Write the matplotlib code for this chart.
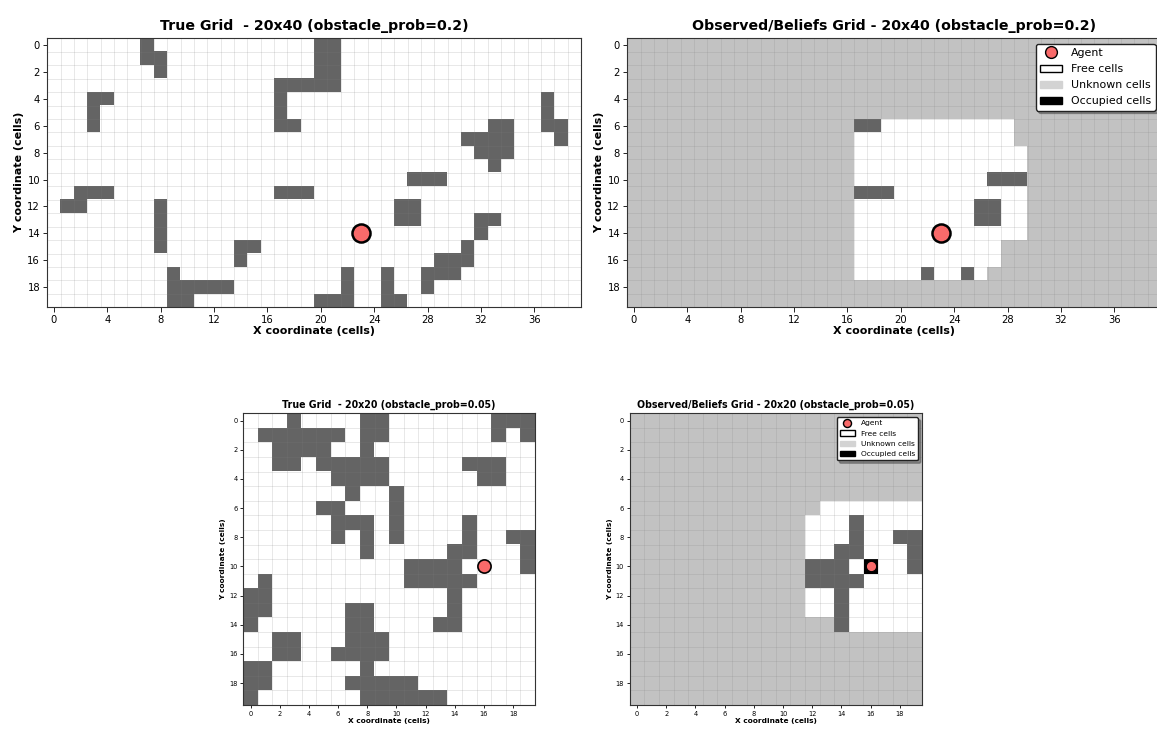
import numpy as np
import matplotlib
matplotlib.use('Agg')
import matplotlib.pyplot as plt
from matplotlib.colors import ListedColormap
from matplotlib.patches import Patch
from matplotlib.lines import Line2D


# 20x40 地图：每一行中障碍物所在的列
big_shape = (20, 40)
big_obstacles = [
    [7, 20, 21],
    [7, 8, 20, 21],
    [8, 20, 21],
    [17, 18, 19, 20, 21],
    [3, 4, 17, 37],
    [3, 17, 37],
    [3, 17, 18, 33, 34, 37, 38],
    [31, 32, 33, 34, 38],
    [32, 33, 34],
    [33],
    [27, 28, 29],
    [2, 3, 4, 17, 18, 19],
    [1, 2, 8, 26, 27],
    [8, 26, 27, 32, 33],
    [8, 32],
    [8, 14, 15, 31],
    [14, 29, 30, 31],
    [9, 22, 25, 28, 29, 30],
    [9, 10, 11, 12, 13, 22, 25, 28],
    [9, 10, 20, 21, 22, 25, 26],
]
big_agent = (23, 14)
# 已观测区域：行 -> (起始列, 结束列)
big_seen = {6: (17, 28), 7: (17, 28), 8: (17, 29), 9: (17, 29), 10: (17, 29),
            11: (17, 29), 12: (17, 29), 13: (17, 29), 14: (17, 29),
            15: (17, 27), 16: (17, 27), 17: (17, 26)}

# 20x20 地图
small_shape = (20, 20)
small_obstacles = [
    [3, 8, 9, 17, 18, 19],
    [1, 2, 3, 4, 5, 6, 8, 9, 17, 19],
    [2, 3, 4, 5, 8],
    [2, 3, 5, 6, 7, 8, 9, 15, 16, 17],
    [6, 7, 8, 9, 16, 17],
    [7, 10],
    [5, 6, 10],
    [6, 7, 8, 10, 15],
    [6, 8, 10, 15, 18, 19],
    [8, 14, 15, 19],
    [11, 12, 13, 14, 19],
    [1, 11, 12, 13, 14, 15],
    [0, 1, 14],
    [0, 1, 7, 8, 14],
    [0, 7, 8, 13, 14],
    [2, 3, 7, 8, 9],
    [2, 3, 6, 7, 8, 9],
    [0, 1, 8],
    [0, 1, 7, 8, 9, 10, 11],
    [0, 8, 9, 10, 11, 12, 13],
]
small_agent = (16, 10)
small_seen = {6: (13, 19), 7: (12, 19), 8: (12, 19), 9: (12, 19), 10: (12, 19),
              11: (12, 19), 12: (12, 19), 13: (12, 19), 14: (14, 19)}

# 0 空闲, 1 障碍, 2 未知, 3 智能体所在格
cell_cmap = ListedColormap(['white', '#646464', '#c2c2c2', 'black'])
agent_color = '#f96a6a'


def true_grid(shape, obstacles):
    grid = np.zeros(shape)
    for r, cols in enumerate(obstacles):
        grid[r, cols] = 1
    return grid


def belief_grid(shape, obstacles, seen):
    real = true_grid(shape, obstacles)
    grid = np.full(shape, 2.0)
    for r, (c0, c1) in seen.items():
        grid[r, c0:c1 + 1] = real[r, c0:c1 + 1]
    return grid


def draw_grid(ax, grid, agent, title, fs, ms, mew, xstep):
    h, w = grid.shape
    ax.imshow(grid, cmap=cell_cmap, vmin=0, vmax=3, interpolation='nearest', aspect='auto')
    ax.set_xticks(np.arange(-0.5, w, 1), minor=True)
    ax.set_yticks(np.arange(-0.5, h, 1), minor=True)
    ax.grid(which='minor', color='gray', alpha=0.25, linewidth=0.5)
    ax.tick_params(which='minor', length=0)
    ax.set_xticks(np.arange(0, w, xstep))
    ax.set_yticks(np.arange(0, h, 2))
    ax.tick_params(which='major', labelsize=fs[2], length=fs[2] * 0.45, width=0.6, pad=2)
    for s in ax.spines.values():
        s.set_linewidth(0.8)
        s.set_color('#333333')
    ax.plot(agent[0], agent[1], 'o', color=agent_color, markersize=ms,
            markeredgecolor='black', markeredgewidth=mew)
    ax.set_title(title, fontsize=fs[0], fontweight='bold', pad=fs[0] * 0.6)
    ax.set_xlabel('X coordinate (cells)', fontsize=fs[1], fontweight='bold', labelpad=1)
    ax.set_ylabel('Y coordinate (cells)', fontsize=fs[1], fontweight='bold', labelpad=2)


def add_legend(ax, fontsize, ms):
    handles = [
        Line2D([], [], marker='o', linestyle='none', color=agent_color,
               markeredgecolor='black', markersize=ms, label='Agent'),
        Patch(facecolor='white', edgecolor='black', label='Free cells'),
        Patch(facecolor='lightgray', edgecolor='lightgray', label='Unknown cells'),
        Patch(facecolor='black', edgecolor='black', label='Occupied cells'),
    ]
    leg = ax.legend(handles=handles, loc='upper right', fontsize=fontsize,
                    shadow=True, fancybox=True, framealpha=1, labelspacing=0.55)
    leg.get_frame().set_edgecolor('#222222')


def main():
    W, H = 1157, 729
    fig = plt.figure(figsize=(W / 100, H / 100), dpi=100)

    def px_axes(x0, y0, x1, y1):
        return fig.add_axes([x0 / W, 1 - y1 / H, (x1 - x0) / W, (y1 - y0) / H])

    big_fs = (10.2, 8, 7.2)
    small_fs = (6.85, 5.3, 4.8)

    ax1 = px_axes(47.3, 38.3, 581.0, 307.3)
    draw_grid(ax1, true_grid(big_shape, big_obstacles), big_agent,
              'True Grid  - 20x40 (obstacle_prob=0.2)', big_fs, 13, 1.8, 4)

    ax2 = px_axes(627.3, 38.3, 1161.0, 307.3)
    draw_grid(ax2, belief_grid(big_shape, big_obstacles, big_seen), big_agent,
              'Observed/Beliefs Grid - 20x40 (obstacle_prob=0.2)', big_fs, 13, 1.8, 4)
    add_legend(ax2, 7.9, 8.5)

    ax3 = px_axes(243.3, 413.3, 535.0, 705.0)
    draw_grid(ax3, true_grid(small_shape, small_obstacles), small_agent,
              'True Grid  - 20x20 (obstacle_prob=0.05)', small_fs, 9.5, 1.2, 2)

    obs = belief_grid(small_shape, small_obstacles, small_seen)
    obs[small_agent[1], small_agent[0]] = 3
    ax4 = px_axes(629.7, 413.3, 921.7, 705.0)
    draw_grid(ax4, obs, small_agent,
              'Observed/Beliefs Grid - 20x20 (obstacle_prob=0.05)', small_fs, 7.5, 0.9, 2)
    add_legend(ax4, 5.4, 5.8)

    fig.savefig('out.png', dpi=100)


if __name__ == "__main__":
    main()
